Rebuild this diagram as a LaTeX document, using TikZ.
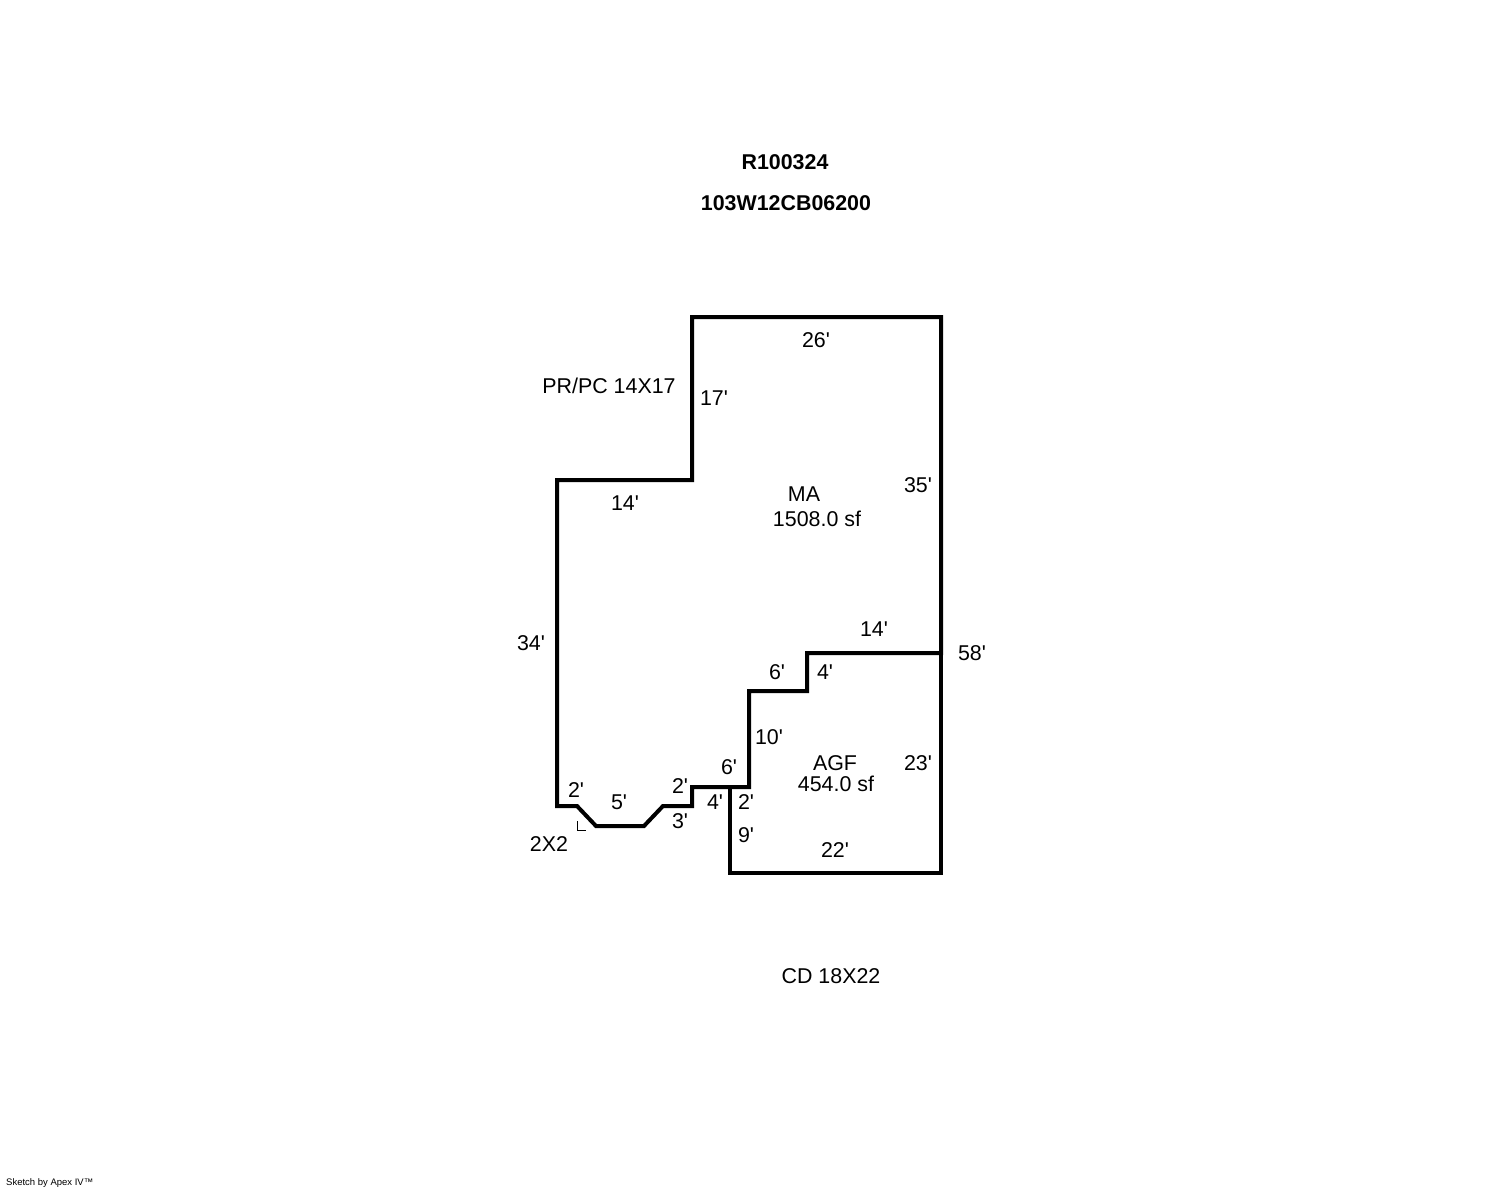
\documentclass[tikz,border=0pt]{standalone}
\usepackage{fontspec}
\setmainfont[Ligatures=TeXOff]{Liberation Sans}
\usepackage{xcolor}
\usepackage{tikz}

\begin{document}
\begin{tikzpicture}[
    x=1pt, y=-1pt,
    wall/.style={line width=4pt, line join=miter, black},
    dim/.style={inner sep=0pt, text height=15pt, text depth=0pt, font=\fontsize{21.4}{21.4}\selectfont},
    title/.style={dim, font=\fontsize{21.4}{21.4}\selectfont\bfseries},
    credit/.style={inner sep=0pt, anchor=west, font=\fontsize{9.5}{9.5}\selectfont}
]
\useasboundingbox (0,0) rectangle (1488,1190);

% outline of MA
\draw[wall] (692,317) -- (941,317) -- (941,653) -- (807,653) -- (807,691) -- (749,691)
    -- (749,787) -- (692,787) -- (692,806) -- (663,806) -- (644,826) -- (596,826)
    -- (577,806) -- (557,806) -- (557,480) -- (692,480) -- cycle;
% AGF
\draw[wall] (941,653) -- (941,873) -- (730,873) -- (730,787);
% corner mark
\draw[line width=1pt] (577,821) -- (577,830) -- (586,830);

\node[title] (parcel) at (785,162) {R100324};
\node[title] (map) at (786,203) {103W12CB06200};

\node[dim] (ma) at (804,494) {MA};
\node[dim] (maarea) at (817,519) {1508.0 sf};
\node[dim] (agf) at (835,763) {AGF};
\node[dim] (agfarea) at (836,784) {454.0 sf};
\node[dim] (porch) at (609,386) {PR/PC 14X17};
\node[dim] (bay) at (549,844) {2X2};
\node[dim] (deck) at (831,976) {CD 18X22};

\node[dim] (top) at (816,340) {26'};
\node[dim] (a) at (714,398) {17'};
\node[dim] (b) at (918,485) {35'};
\node[dim] (c) at (625,503) {14'};
\node[dim] (d) at (531,643) {34'};
\node[dim] (e) at (874,629) {14'};
\node[dim] (f) at (972,653) {58'};
\node[dim] (g) at (777,672) {6'};
\node[dim] (h) at (825,672) {4'};
\node[dim] (i) at (769,737) {10'};
\node[dim] (j) at (918,763) {23'};
\node[dim] (k) at (729,767) {6'};
\node[dim] (l) at (576,790) {2'};
\node[dim] (m) at (680,786) {2'};
\node[dim] (n) at (619,802) {5'};
\node[dim] (o) at (715,802) {4'};
\node[dim] (p) at (746,802) {2'};
\node[dim] (q) at (680,821) {3'};
\node[dim] (r) at (746,835) {9'};
\node[dim] (s) at (835,850) {22'};

\node[credit] (sketch) at (6,1183) {Sketch by Apex IV™};
\end{tikzpicture}
\end{document}
